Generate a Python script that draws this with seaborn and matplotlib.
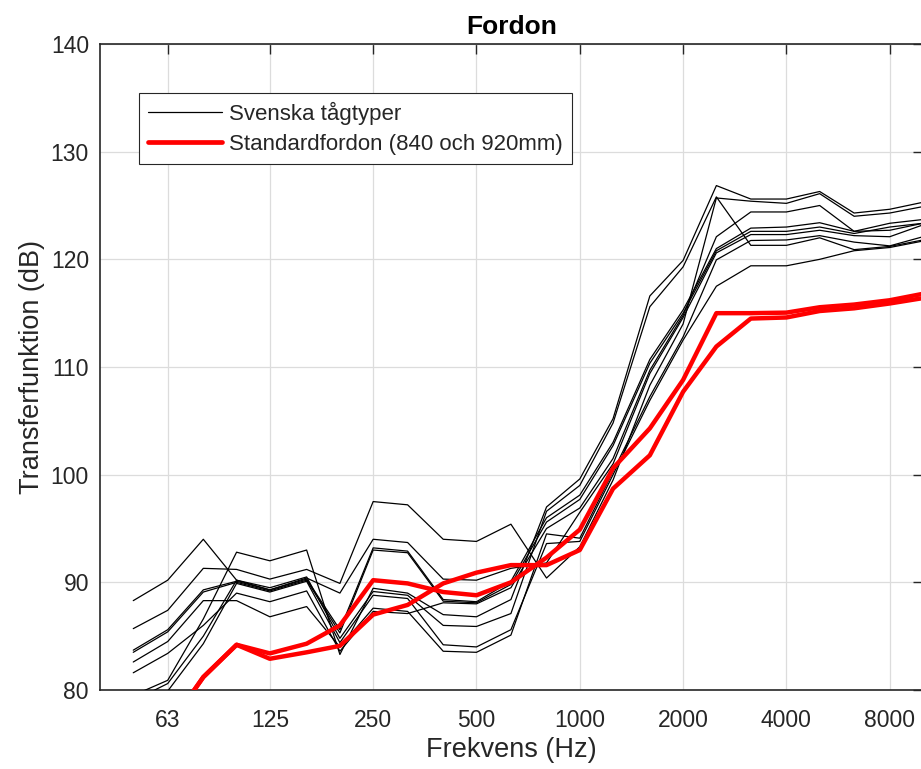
import matplotlib
matplotlib.use("Agg")
import matplotlib.pyplot as plt
import seaborn as sns
import pandas as pd
from matplotlib.ticker import FixedLocator, FixedFormatter, NullLocator
from matplotlib.lines import Line2D

bands = [50, 63, 80, 100, 125, 160, 200, 250, 315, 400, 500, 630, 800, 1000,
         1250, 1600, 2000, 2500, 3150, 4000, 5000, 6300, 8000, 10000]

svenska_1 = [88.3, 90.2, 94.0, 90.2, 89.3, 90.4, 89.0, 94.0, 93.7, 90.3, 90.2, 91.3, 91.8, 96.5,
             101.0, 109.4, 114.6, 120.6, 122.3, 122.3, 122.7, 122.2, 122.1, 123.2]
svenska_2 = [85.7, 87.4, 91.3, 91.2, 90.3, 91.2, 89.9, 97.5, 97.2, 94.0, 93.8, 95.4, 90.4, 93.3,
             99.5, 108.3, 114.0, 125.7, 125.4, 125.2, 126.1, 124.0, 124.3, 124.9]
svenska_3 = [83.7, 85.6, 89.3, 90.1, 89.3, 90.3, 85.6, 93.2, 92.9, 88.4, 88.2, 90.1, 96.0, 98.1,
             103.0, 110.7, 115.3, 121.0, 122.9, 123.0, 123.4, 122.6, 123.35, 123.7]
svenska_4 = [83.5, 85.4, 89.1, 90.0, 89.2, 90.2, 85.3, 93.0, 92.75, 88.25, 88.1, 89.8, 95.6, 97.7,
             102.7, 110.35, 115.0, 120.8, 122.6, 122.6, 123.0, 122.4, 123.0, 123.35]
svenska_5 = [82.6, 84.5, 88.3, 88.3, 86.8, 87.75, 84.0, 87.6, 87.3, 83.6, 83.5, 85.1, 94.5, 94.1,
             100.3, 107.25, 112.8, 119.95, 121.75, 121.8, 122.2, 121.6, 121.25, 122.1]
svenska_6 = [81.6, 83.4, 86.0, 89.0, 88.2, 89.2, 83.6, 87.3, 87.1, 88.1, 88.0, 89.5, 95.0, 96.9,
             101.5, 109.7, 114.8, 122.1, 124.4, 124.4, 125.0, 122.6, 122.7, 123.35]
svenska_7 = [79.5, 80.9, 86.6, 92.8, 92.0, 93.0, 83.3, 89.45, 89.0, 87.0, 86.8, 88.4, 97.0, 99.6,
             105.2, 116.6, 119.9, 126.85, 125.6, 125.6, 126.3, 124.3, 124.65, 125.3]
svenska_8 = [79.0, 80.6, 85.0, 90.2, 89.5, 90.5, 84.8, 89.15, 88.8, 86.0, 85.9, 87.1, 96.6, 99.0,
             104.8, 115.6, 119.3, 125.8, 121.3, 121.3, 122.0, 120.9, 121.2, 121.8]
svenska_9 = [77.0, 79.9, 84.3, 89.9, 89.1, 90.1, 84.4, 88.8, 88.5, 84.2, 84.0, 85.6, 93.6, 93.8,
             100.0, 106.9, 112.5, 117.5, 119.4, 119.4, 120.0, 120.8, 121.1, 121.7]

standard_840 = [72.0, 76.5, 81.2, 84.2, 83.4, 84.3, 86.0, 90.2, 89.9, 89.1, 88.8, 90.0, 92.3, 94.9,
                100.6, 104.3, 108.8, 115.0, 115.0, 115.05, 115.55, 115.8, 116.2, 116.8]
standard_920 = [72.0, 76.5, 81.2, 84.2, 82.9, 83.5, 84.1, 87.0, 87.9, 89.9, 90.9, 91.6, 91.6, 93.0,
                98.7, 101.8, 107.7, 111.9, 114.5, 114.6, 115.2, 115.45, 115.9, 116.4]

xticks = [63, 125, 250, 500, 1000, 2000, 4000, 8000]
xtick_labels = ["63", "125", "250", "500", "1000", "2000", "4000", "8000"]
yticks = [80, 90, 100, 110, 120, 130, 140]

black_series = [svenska_1, svenska_2, svenska_3, svenska_4, svenska_5,
                svenska_6, svenska_7, svenska_8, svenska_9]
red_series = [standard_840, standard_920]

rows = []
for i, s in enumerate(black_series):
    for f, v in zip(bands, s):
        rows.append({"f": f, "v": v, "unit": f"s{i}", "grp": "Svenska tågtyper"})
for i, s in enumerate(red_series):
    for f, v in zip(bands, s):
        rows.append({"f": f, "v": v, "unit": f"r{i}", "grp": "Standardfordon (840 och 920mm)"})
df = pd.DataFrame(rows)

sns.set_theme(style="white")
plt.rcParams["font.family"] = ["Liberation Sans", "DejaVu Sans"]

fig = plt.figure(figsize=(9.21, 7.69), dpi=100)
ax = fig.add_axes([100 / 921, 79 / 769, 823 / 921, 646 / 769])

dfb = df[df.grp == "Svenska tågtyper"]
dfr = df[df.grp != "Svenska tågtyper"]
sns.lineplot(data=dfb, x="f", y="v", units="unit", estimator=None, color="black",
             linewidth=0.9, ax=ax, legend=False, zorder=3)
sns.lineplot(data=dfr, x="f", y="v", units="unit", estimator=None, color="#ff0000",
             linewidth=3.2, ax=ax, legend=False, zorder=4)

ax.set_xscale("log")
ax.set_xlim(40, 10000)
ax.set_ylim(80, 140)
ax.xaxis.set_major_locator(FixedLocator(xticks))
ax.xaxis.set_major_formatter(FixedFormatter(xtick_labels))
ax.xaxis.set_minor_locator(NullLocator())
ax.set_yticks(yticks)

ax.grid(True, color="#dcdcdc", linewidth=0.9, zorder=0)
ax.set_axisbelow(True)
for sp in ax.spines.values():
    sp.set_color("#262626")
    sp.set_linewidth(1.2)
ax.tick_params(axis="both", which="major", direction="in", length=7, width=1.0,
               colors="#262626", labelsize=16.5, top=True, right=True)
ax.tick_params(axis="x", pad=14)
ax.tick_params(axis="y", pad=8)

ax.set_xlabel("Frekvens (Hz)", fontsize=19.5, color="#262626", labelpad=3)
ax.set_ylabel("Transferfunktion (dB)", fontsize=19.5, color="#262626", labelpad=4)
ax.set_title("Fordon", fontsize=19, fontweight="bold", color="black", pad=7)

handles = [Line2D([0], [0], color="black", linewidth=0.9),
           Line2D([0], [0], color="#ff0000", linewidth=3.4)]
leg = ax.legend(handles, ["Svenska tågtyper", "Standardfordon (840 och 920mm)"],
                loc="upper left", bbox_to_anchor=(39 / 823, 1 - 49 / 646),
                fontsize=16, frameon=True, fancybox=False, framealpha=1,
                edgecolor="#262626", handlelength=3.35, borderpad=0.4,
                labelspacing=0.4, handletextpad=0.3, borderaxespad=0)
leg.get_frame().set_linewidth(0.8)

fig.savefig("out.png", dpi=100)
